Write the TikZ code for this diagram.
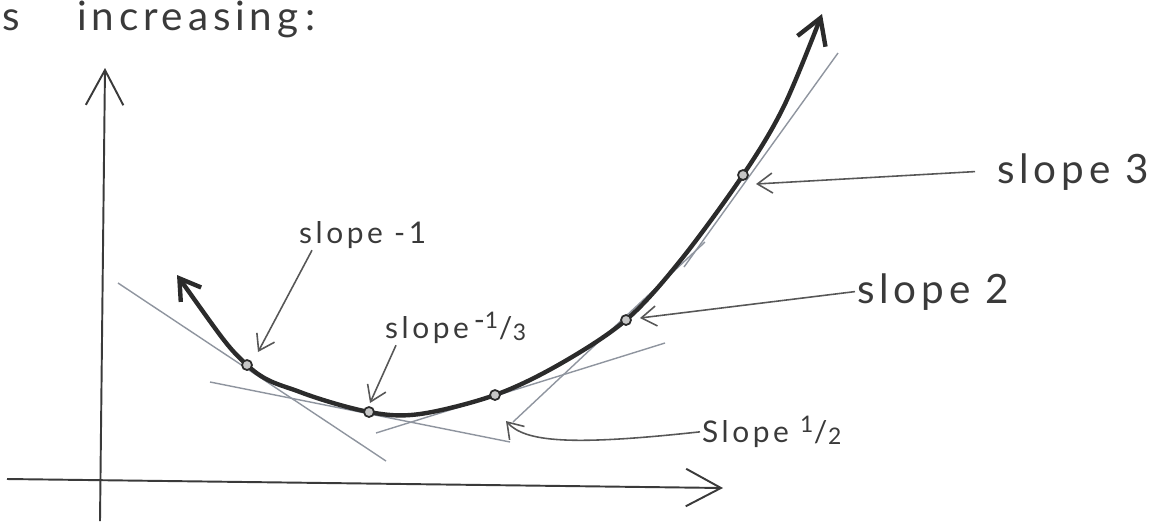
\documentclass[tikz,border=0pt]{standalone}
\usepackage{fontspec}
\newfontfamily\handfont{Lato}[LetterSpace=12]
\usetikzlibrary{arrows.meta}
\definecolor{ink}{HTML}{3A3A3A}
\definecolor{pen}{HTML}{2B2B2B}
\definecolor{pencil}{HTML}{8F959F}
\newcommand{\hfrac}[2]{\raisebox{0.6ex}{\fontsize{13}{15}\selectfont #1}\kern0.02em/\kern0.02em\raisebox{-0.15ex}{\fontsize{13}{15}\selectfont #2}}

\begin{document}
\begin{tikzpicture}[x=0.2mm, y=-0.2mm,
  curve/.style={line width=2.5pt, pen, line cap=round},
  axis/.style={line width=1.1pt, ink, -{Straight Barb[length=7mm, width=7.5mm]}},
  tangent/.style={line width=0.8pt, pencil},
  pointer/.style={line width=0.9pt, ink!85, -{Straight Barb[length=3mm, width=4mm]}},
  bigtxt/.style={font=\handfont\fontsize{23}{27}\selectfont, text=ink, inner sep=1pt, anchor=base west},
  smalltxt/.style={font=\handfont\fontsize{17}{20}\selectfont, text=ink, inner sep=1pt, anchor=base west},
  dot/.style={circle, draw=pen, fill=gray!45, line width=1pt, inner sep=0pt, minimum size=2mm}
]
\useasboundingbox (0,0) rectangle (1156,521);

% ===== Heading =====
\node[bigtxt, inner sep=0pt] (cut) at (2,30) {s};
\node[bigtxt] (head) at (75,30) {increasing\,:};

% ===== Axes =====
\coordinate (yfoot) at (100,521);
\coordinate (ytop)  at (105,68);
\coordinate (xfoot) at (7,479);
\coordinate (xtip)  at (723,488);
\draw[axis] (yfoot) -- (ytop);
\draw[axis] (xfoot) -- (xtip);

% ===== Tangent lines =====
\draw[tangent] (118,283) -- (386,461);
\draw[tangent] (210,382) -- (510,442);
\draw[tangent] (376,433) -- (665,343);
\draw[tangent] (513,422) -- (705,242);
\draw[tangent] (838,53) -- (684,267);

% ===== Curve =====
\draw[curve, {Straight Barb[length=4mm, width=5mm]}-{Straight Barb[length=5mm, width=6mm]}]
  plot[smooth, tension=0.55] coordinates {(177,275) (247,365) (300,392) (369,412) (420,414)
  (495,395) (560,364) (626,320) (680,261) (743,175) (784,106) (822,14)};

% ===== Points of tangency =====
\node[dot] (p1) at (247,365) {};
\node[dot] (p2) at (369,412) {};
\node[dot] (p3) at (495,395) {};
\node[dot] (p4) at (626,320) {};
\node[dot] (p5) at (743,175) {};

% ===== Labels =====
\node[smalltxt] (sm1)  at (297,243) {slope -1};
\node[smalltxt] (sm13) at (383,338) {slope\,\raisebox{0.5ex}{-}\hfrac{1}{3}};
\node[smalltxt] (sh)   at (700,442) {Slope \hfrac{1}{2}};
\node[bigtxt]   (s2)   at (855,303) {slope 2};
\node[bigtxt]   (s3)   at (995,183) {slope 3};

% arrow tips next to the points
\coordinate (t1)  at (258,352);
\coordinate (t13) at (370,403);
\coordinate (t12) at (506,421);
\coordinate (t2)  at (640,318);
\coordinate (t3)  at (756,184);

\draw[pointer] ([xshift=3mm]sm1.south west) -- (t1);
\draw[pointer] ([xshift=2.6mm]sm13.south west) -- (t13);
\draw[pointer] (sh.west) .. controls (570,446) and (525,442) .. (t12);
\draw[pointer] (s2.west) -- (t2);
\draw[pointer] ([xshift=-4mm]s3.west) -- (t3);

\end{tikzpicture}
\end{document}
